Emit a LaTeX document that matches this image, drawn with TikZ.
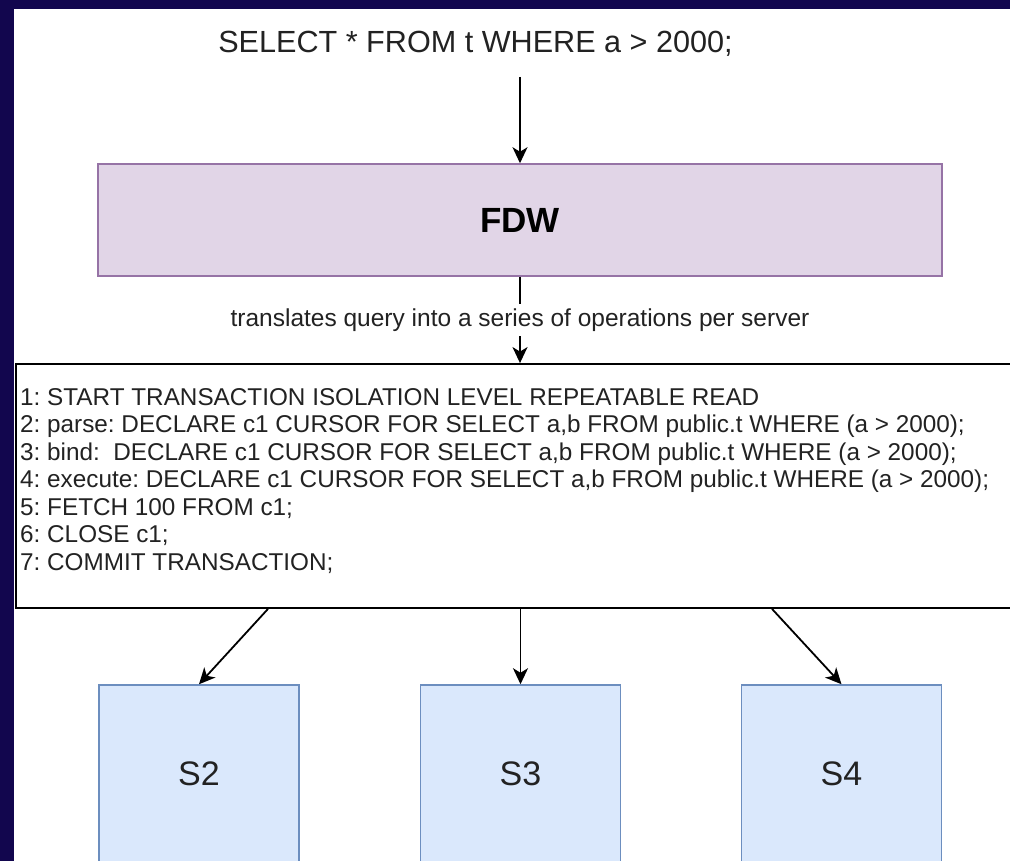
\documentclass[tikz,border=0pt]{standalone}
\usepackage{fontspec}
\setmainfont{Liberation Sans}
\usetikzlibrary{arrows.meta}
\definecolor{bgdark}{RGB}{18,6,78}
\definecolor{fdwfill}{HTML}{E1D5E7}
\definecolor{fdwline}{HTML}{9673A6}
\definecolor{srvfill}{HTML}{DAE8FC}
\definecolor{srvline}{HTML}{6C8EBF}
\definecolor{txt}{HTML}{222222}
\begin{document}
\begin{tikzpicture}[x=1pt,y=-1pt,
  conn/.style={line width=1.8pt, draw=black, -{Stealth[length=16pt,width=15pt,inset=4.5pt]}},
  srv/.style={draw=srvline, fill=srvfill, line width=1.5pt, minimum width=200pt, minimum height=178pt, inner sep=0pt, font=\fontsize{34}{40}\selectfont, text=txt},
  fdwbox/.style={draw=fdwline, fill=fdwfill, line width=1.5pt, minimum width=844pt, minimum height=112pt, inner sep=0pt, font=\fontsize{35}{42}\selectfont\bfseries, text=black},
  opsbox/.style={draw=black, fill=white, line width=1.8pt, minimum width=1008pt, minimum height=244pt, inner sep=0pt},
  opslines/.style={anchor=north west, align=left, inner sep=0pt, text=txt, font=\fontsize{24.3}{27.5}\selectfont\frenchspacing},
  querytext/.style={anchor=base, inner sep=0pt, text=txt, font=\fontsize{30.6}{36}\selectfont\frenchspacing},
  lbl/.style={fill=white, inner sep=5pt, text=txt, font=\fontsize{24.5}{29}\selectfont\frenchspacing}
]
\useasboundingbox (0,0) rectangle (1010,861);
\fill[bgdark] (0,0) rectangle (1010,861);
\fill[white] (14,9) rectangle (1010,861);

\node[querytext] (query) at (475.5,53) {SELECT * FROM t WHERE a > 2000;};
\coordinate (qend) at (520,77);

\node[fdwbox] (fdw) at (520,220) {FDW};

\node[opsbox] (ops) at (520,486) {};
\node[opslines] (opstext) at (20,388) {1: START TRANSACTION ISOLATION LEVEL REPEATABLE READ\\
2: parse: DECLARE c1 CURSOR FOR SELECT a,b FROM public.t WHERE (a > 2000);\\
3: bind:\ \ DECLARE c1 CURSOR FOR SELECT a,b FROM public.t WHERE (a > 2000);\\
4: execute: DECLARE c1 CURSOR FOR SELECT a,b FROM public.t WHERE (a > 2000);\\
5: FETCH 100 FROM c1;\\
6: CLOSE c1;\\
7: COMMIT TRANSACTION;};

\node[srv] (s2) at (199,774) {S2};
\node[srv] (s3) at (520.5,774) {S3};
\node[srv] (s4) at (841.5,774) {S4};

\draw[conn] (qend) -- (fdw.north);
\draw[conn] (fdw.south) -- node[lbl] (lab) {translates query into a series of operations per server} (ops.north);
\draw[conn] ([xshift=-252pt]ops.south) -- (s2.north);
\draw[conn] (ops.south -| s3.north) -- (s3.north);
\draw[conn] ([xshift=252pt]ops.south) -- (s4.north);
\end{tikzpicture}
\end{document}
